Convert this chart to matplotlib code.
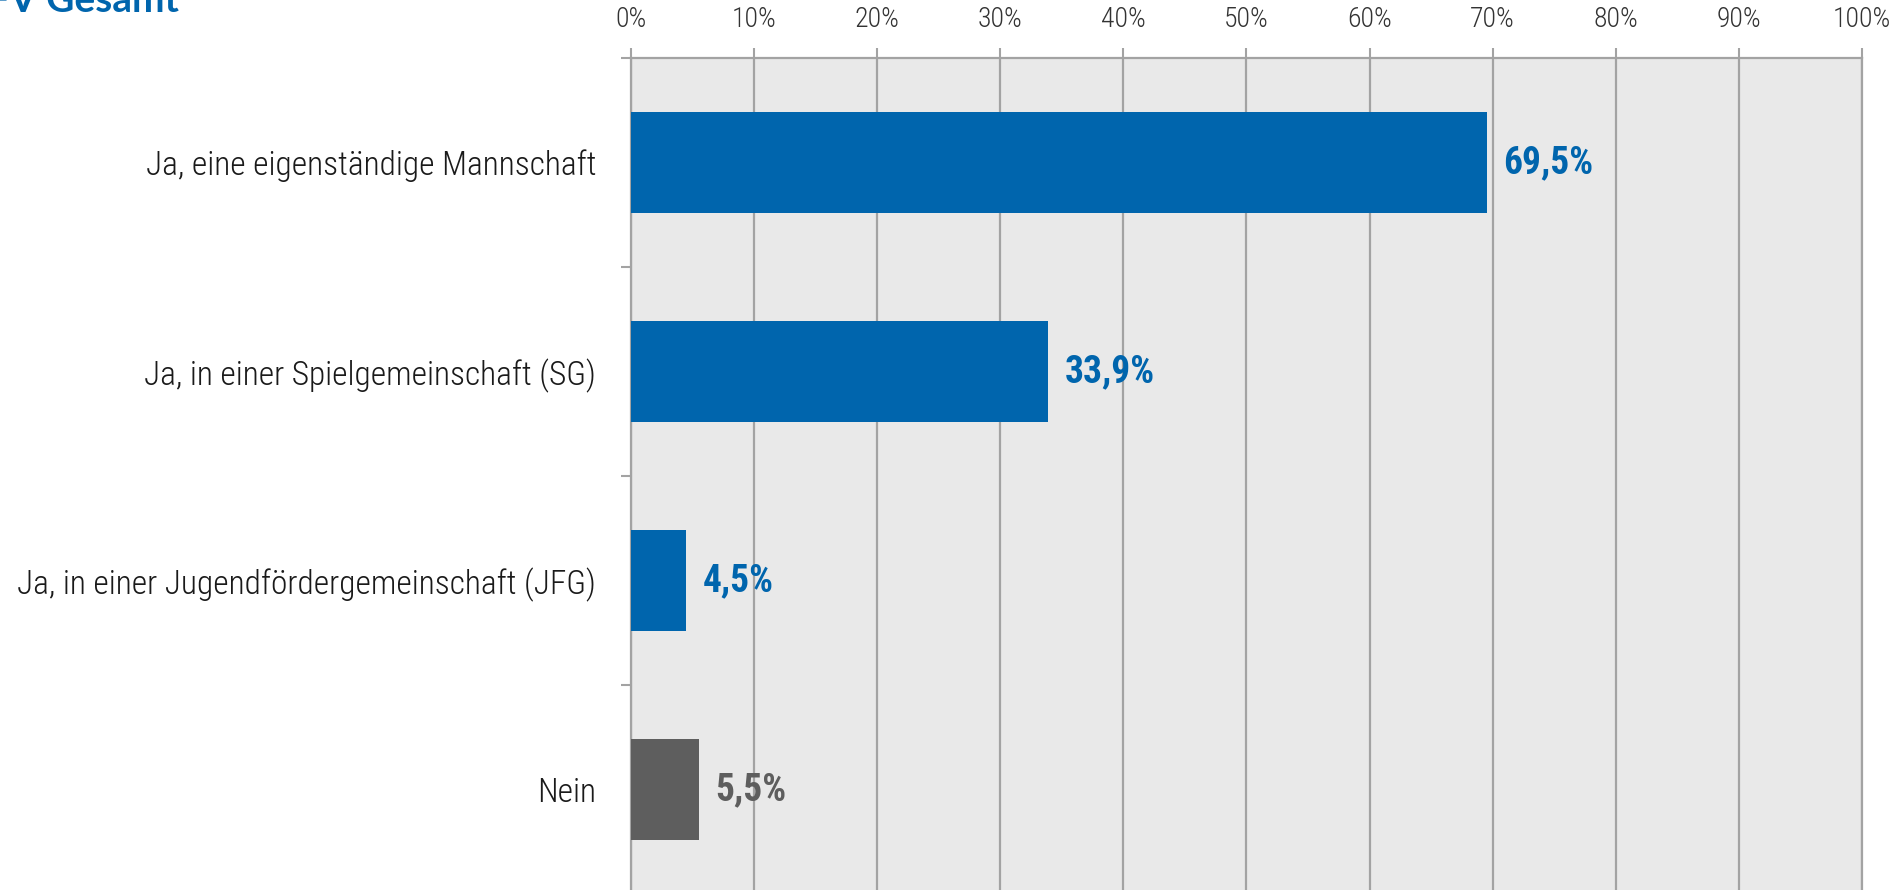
import matplotlib
matplotlib.use("Agg")
import matplotlib.pyplot as plt
from matplotlib import font_manager
from matplotlib.ticker import PercentFormatter

categories = [
    "Ja, eine eigenständige Mannschaft",
    "Ja, in einer Spielgemeinschaft (SG)",
    "Ja, in einer Jugendfördergemeinschaft (JFG)",
    "Nein",
]
values = [69.5, 33.9, 4.5, 5.5]
title = "BFV Gesamt"

blue = "#0065AD"
dark = "#5E5E5E"
bar_colors = [blue, blue, blue, dark]
grid_gray = "#A3A3A3"

# pick a narrow face if one is installed
names = {f.name for f in font_manager.fontManager.ttflist}
narrow = next((n for n in ["Roboto Condensed", "Liberation Sans Narrow",
                           "Open Sans Condensed", "Noto Sans Condensed"]
               if n in names), "DejaVu Sans")
plt.rcParams["font.family"] = [narrow, "DejaVu Sans"]
plt.rcParams["font.stretch"] = "condensed"

fig = plt.figure(figsize=(19, 8.9), dpi=100)
ax = fig.add_axes([0.3321, -0.0045, 0.98 - 0.3321, 0.9348 + 0.0045])

y = list(range(len(categories)))
ax.barh(y, values, height=0.48, color=bar_colors, zorder=3)
ax.set_xlim(0, 100)
ax.set_ylim(len(categories) - 0.5, -0.5)
ax.set_facecolor("#E9E9E9")

# x axis on top
ax.xaxis.tick_top()
ax.set_xticks(range(0, 101, 10))
ax.xaxis.set_major_formatter(PercentFormatter(decimals=0))
ax.tick_params(axis="x", length=7, width=1.5, color=grid_gray, pad=11,
               labelsize=20, labelcolor="#333333")
for t in ax.get_xticklabels():
    t.set_fontweight("light")
ax.grid(axis="x", color=grid_gray, lw=1.6, zorder=1)
ax.set_axisbelow(True)

# y axis: labels at centres, little ticks between categories
ax.set_yticks(y)
ax.set_yticklabels(categories, fontweight="light")
ax.set_yticks([i - 0.5 for i in range(len(categories) + 1)], minor=True)
ax.tick_params(axis="y", which="major", length=0, pad=25, labelsize=24,
               labelcolor="#1A1A1A")
ax.tick_params(axis="y", which="minor", length=7, width=1.5, color=grid_gray)

for side in ["top", "left", "right"]:
    ax.spines[side].set_color(grid_gray)
    ax.spines[side].set_linewidth(1.6)
ax.spines["bottom"].set_visible(False)

for i, v in enumerate(values):
    lbl = f"{v:.1f}".replace(".", ",") + "%"
    ax.annotate(lbl, xy=(v, i), xytext=(12, 0), textcoords="offset points",
                va="center", ha="left", fontsize=27, fontweight="bold",
                color=bar_colors[i])

fig.text(179 / 1900, 1 - 12 / 890, title, ha="right", va="baseline",
         fontsize=28, fontweight="bold", color=blue,
         family=["Lato", "DejaVu Sans"], fontstretch="normal")

fig.savefig("out.png", dpi=100)
